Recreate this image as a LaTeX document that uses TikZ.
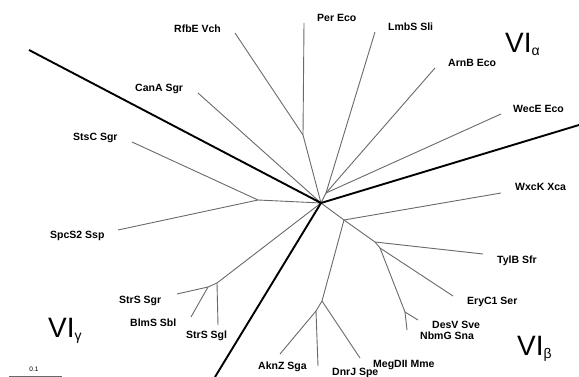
\documentclass[tikz,border=0pt]{standalone}
\usepackage{fontspec}
\setmainfont{Liberation Sans}
\begin{document}
\begin{tikzpicture}[x=1pt,y=-1pt,
  br/.style={draw={rgb,255:red,105;green,105;blue,105},line width=0.9pt},
  thick line/.style={draw=black,line width=1.9pt},
  lab/.style={anchor=base west,inner sep=0pt,font=\fontsize{10.5}{12}\selectfont\bfseries},
  grp/.style={anchor=base west,inner sep=0pt,font=\fontsize{28}{30}\selectfont}]
\useasboundingbox (0,0) rectangle (579,377);
% coordinates
\coordinate (C) at (321,203);
\coordinate (A1) at (326,193);
\coordinate (P) at (303,135);
\coordinate (per) at (304,23);
\coordinate (rfbe) at (235,33);
\coordinate (lmbs) at (375,32);
\coordinate (arnb) at (435,68);
\coordinate (wece) at (501,114);
\coordinate (cana) at (198,93);
\coordinate (G1) at (258,200);
\coordinate (stsc) at (132,142);
\coordinate (spcs) at (118,230);
\coordinate (S1) at (217,283);
\coordinate (S2) at (208,287);
\coordinate (strsgl) at (218,325);
\coordinate (strsgr) at (177,294);
\coordinate (blms) at (191,317);
\coordinate (B1) at (344,220);
\coordinate (wxck) at (501,193);
\coordinate (B2) at (375,242);
\coordinate (tylb) at (483,254);
\coordinate (B3) at (380,248);
\coordinate (eryc) at (453,296);
\coordinate (B4) at (405,312);
\coordinate (desv) at (418,320);
\coordinate (nbmg) at (407,330);
\coordinate (D1) at (322,301);
\coordinate (megd) at (360,358);
\coordinate (D2) at (316,311);
\coordinate (dnrj) at (318,366);
\coordinate (aknz) at (280,354);
\coordinate (T1) at (29,50);
\coordinate (T2) at (579,125);
\coordinate (T3) at (215,377);
\coordinate (sb1) at (9,376);
\coordinate (sb2) at (62,376);
% thin branches
\draw[br] (C) -- (A1);
\draw[br] (A1) -- (lmbs);
\draw[br] (A1) -- (arnb);
\draw[br] (A1) -- (wece);
\draw[br] (C) -- (P) -- (per);
\draw[br] (P) -- (rfbe);
\draw[br] (C) -- (cana);
\draw[br] (C) -- (G1) -- (stsc);
\draw[br] (G1) -- (spcs);
\draw[br] (C) -- (S1) -- (strsgl);
\draw[br] (S1) -- (S2) -- (strsgr);
\draw[br] (S2) -- (blms);
\draw[br] (C) -- (B1) -- (wxck);
\draw[br] (B1) -- (B2) -- (tylb);
\draw[br] (B2) -- (B3) -- (eryc);
\draw[br] (B3) -- (B4) -- (desv);
\draw[br] (B4) -- (nbmg);
\draw[br] (B1) -- (D1) -- (megd);
\draw[br] (D1) -- (D2) -- (dnrj);
\draw[br] (D2) -- (aknz);
% thick separators
\draw[thick line] (T1) -- (C);
\draw[thick line] (C) -- (T2);
\draw[thick line] (C) -- (T3);
% labels
\node[lab] (lper) at (317,22) {Per Eco};
\node[lab] (lrfbe) at (174,33) {RfbE Vch};
\node[lab] (llmbs) at (388,31) {LmbS Sli};
\node[lab] (larnb) at (448,67) {ArnB Eco};
\node[lab] (lwece) at (513,113) {WecE Eco};
\node[lab] (lcana) at (135,92) {CanA Sgr};
\node[lab] (lstsc) at (73,141) {StsC Sgr};
\node[lab] (lspcs) at (50,239) {SpcS2 Ssp};
\node[lab] (lwxck) at (515,191) {WxcK Xca};
\node[lab] (ltylb) at (497,264) {TylB Sfr};
\node[lab] (leryc) at (467,305) {EryC1 Ser};
\node[lab] (ldesv) at (432,328) {DesV Sve};
\node[lab] (lnbmg) at (420,339) {NbmG Sna};
\node[lab] (lmegd) at (373,367) {MegDII Mme};
\node[lab] (ldnrj) at (332,375) {DnrJ Spe};
\node[lab] (laknz) at (258,369) {AknZ Sga};
\node[lab] (lstrsgl) at (186,338) {StrS Sgl};
\node[lab] (lblms) at (130,326) {BlmS Sbl};
\node[lab] (lstrsgr) at (119,303) {StrS Sgr};
% group labels
\node[grp] (ga) at (505,53) {VI\raisebox{-3pt}{\fontsize{14}{16}\selectfont α}};
\node[grp] (gb) at (517,355) {VI\raisebox{-3pt}{\fontsize{14}{16}\selectfont β}};
\node[grp] (gc) at (48,337) {VI\raisebox{-3pt}{\fontsize{14}{16}\selectfont γ}};
% scale bar
\draw[br] (sb1) -- (sb2);
\node[inner sep=0pt,font=\fontsize{6.5}{7}\selectfont] (sbl) at (34,369) {0.1};
\end{tikzpicture}
\end{document}
